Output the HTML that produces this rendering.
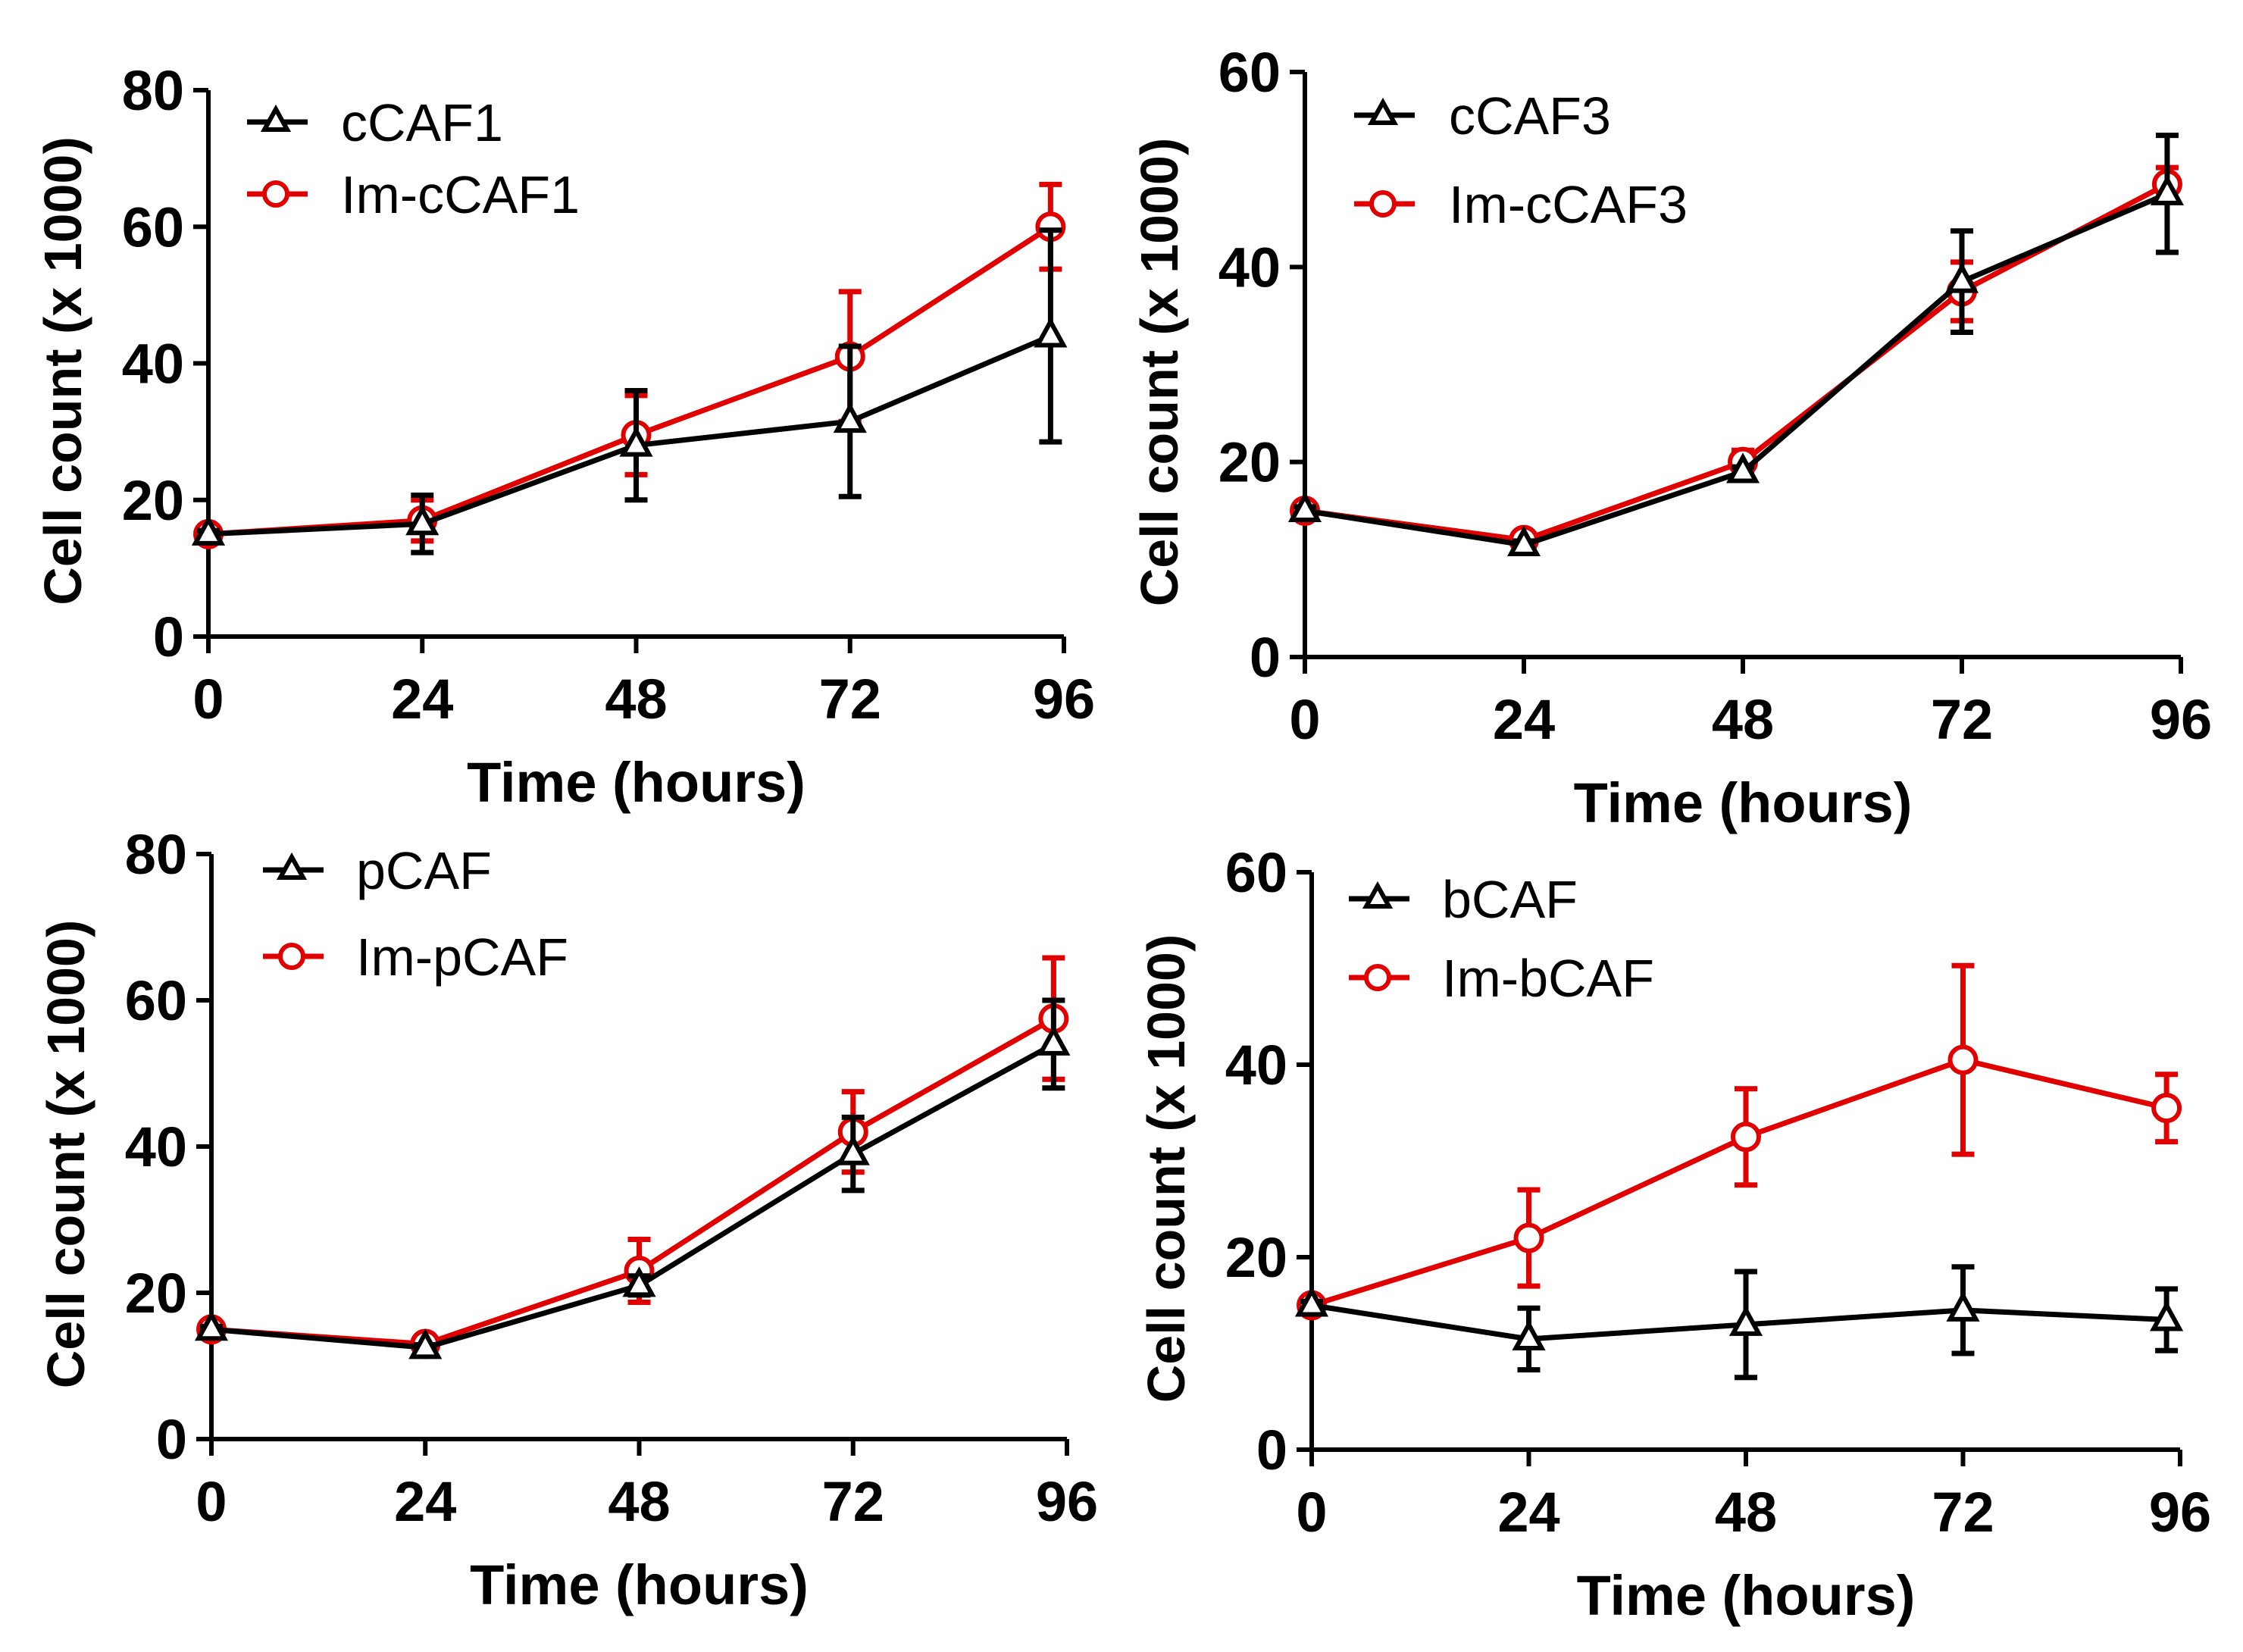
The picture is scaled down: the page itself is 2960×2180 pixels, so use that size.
<!DOCTYPE html>
<html><head><meta charset="utf-8"><style>
html,body{margin:0;padding:0;background:#fff;}
svg{display:block;}
.tick{font-family:"Liberation Sans Narrow","Liberation Sans",sans-serif;font-weight:bold;font-size:74px;fill:#000;}
.xt{font-family:"Liberation Sans Narrow","Liberation Sans",sans-serif;font-weight:bold;font-size:74px;fill:#000;}
.yt{font-family:"Liberation Sans",sans-serif;font-weight:bold;font-size:70px;fill:#000;}
.leg{font-family:"Liberation Sans",sans-serif;font-size:70px;fill:#000;}
</style></head><body>
<svg id="fig" width="2960" height="2180" viewBox="0 0 2960 2180" xmlns="http://www.w3.org/2000/svg"></svg>
<script>
// Shared x categories (hours)
const times = [0, 24, 48, 72, 94.5];
const xTickLabels = [0, 24, 48, 72, 96];
const yTicks80 = [0, 20, 40, 60, 80];
const yTicks60 = [0, 20, 40, 60];
// Panel A
const aNames = ["cCAF1", "Im-cCAF1"];
const aBlack = [15, 16.5, 28, 31.5, 44];
const aBlackErr = [0.5, 4.2, 8, 11, 15.5];
const aRed = [15, 17, 29.5, 41, 60];
const aRedErr = [0.5, 3, 5.8, 9.5, 6.2];
// Panel B
const bNames = ["cCAF3", "Im-cCAF3"];
const bBlack = [15, 11.5, 19, 38.5, 47.5];
const bBlackErr = [0.4, 0.4, 0.5, 5.2, 6];
const bRed = [15, 12, 20, 37.5, 48.5];
const bRedErr = [0.4, 0.5, 1.2, 3, 1.7];
// Panel C
const cNames = ["pCAF", "Im-pCAF"];
const cBlack = [15, 12.5, 21, 39, 54];
const cBlackErr = [0.4, 0.4, 1.3, 5, 6];
const cRed = [15, 13, 23, 42, 57.5];
const cRedErr = [0.4, 0.5, 4.3, 5.5, 8.3];
// Panel D
const dNames = ["bCAF", "Im-bCAF"];
const dBlack = [15, 11.5, 13, 14.5, 13.5];
const dBlackErr = [0.4, 3.2, 5.5, 4.5, 3.2];
const dRed = [15, 22, 32.5, 40.5, 35.5];
const dRedErr = [0.4, 5, 5, 9.8, 3.5];

const NS = "http://www.w3.org/2000/svg";
const fig = document.getElementById("fig");
function mk(tag, attrs, parent){
  const e = document.createElementNS(NS, tag);
  for (const k in attrs) e.setAttribute(k, attrs[k]);
  (parent || fig).appendChild(e);
  return e;
}

const panels = [
  {id:"a", x0:275, x1:1404, y0:840, y1:119, ymax:80, yt:yTicks80, names:aNames, k:aBlack, ke:aBlackErr, r:aRed, re:aRedErr, lx:326, ly:[161,256], tx:450},
  {id:"b", x0:1722, x1:2878, y0:867, y1:95, ymax:60, yt:yTicks60, names:bNames, k:bBlack, ke:bBlackErr, r:bRed, re:bRedErr, lx:1787, ly:[152,269], tx:1912},
  {id:"c", x0:279, x1:1408, y0:1899, y1:1127, ymax:80, yt:yTicks80, names:cNames, k:cBlack, ke:cBlackErr, r:cRed, re:cRedErr, lx:347, ly:[1148,1262], tx:470},
  {id:"d", x0:1731, x1:2877, y0:1913, y1:1151, ymax:60, yt:yTicks60, names:dNames, k:dBlack, ke:dBlackErr, r:dRed, re:dRedErr, lx:1780, ly:[1186,1290], tx:1903}
];

panels.forEach(p => {
  const g = mk("g", {});
  
  
  const X = t => p.x0 + (t / 96) * (p.x1 - p.x0);
  const Y = v => p.y0 - (v / p.ymax) * (p.y0 - p.y1);

  const ya = mk("line", {x1:p.x0, y1:p.y1, x2:p.x0, y2:p.y0, stroke:"#000", "stroke-width":6}, g);
  
  
  const xa = mk("line", {x1:p.x0-20, y1:p.y0, x2:p.x1, y2:p.y0, stroke:"#000", "stroke-width":6}, g);
  
  
  p.yt.forEach(v => {
    mk("line", {x1:p.x0-20, y1:Y(v), x2:p.x0, y2:Y(v), stroke:"#000", "stroke-width":6}, g);
    const t = mk("text", {x:p.x0-32, y:Y(v)+26, "text-anchor":"end", class:"tick"}, g);
    t.textContent = v;
    
    
  });
  xTickLabels.forEach(v => {
    mk("line", {x1:X(v), y1:p.y0, x2:X(v), y2:p.y0+22, stroke:"#000", "stroke-width":6}, g);
    const t = mk("text", {x:X(v), y:p.y0+108, "text-anchor":"middle", class:"xt"}, g);
    t.textContent = v;
    
    
  });
  const xt = mk("text", {x:(p.x0+p.x1)/2, y:p.y0+218, "text-anchor":"middle", class:"xt"}, g);
  xt.textContent = "Time (hours)";
  
  
  const cy = (p.y0+p.y1)/2 + 10;
  const yt = mk("text", {x:0, y:0, "text-anchor":"middle", class:"yt", transform:`translate(${p.x0-168},${cy}) rotate(-90)`}, g);
  yt.textContent = "Cell count (x 1000)";
  
  

  const series = [
    {vals:p.k, err:p.ke, col:"#000", mark:"tri", name:p.names[0]},
    {vals:p.r, err:p.re, col:"#e00000", mark:"circ", name:p.names[1]}
  ];
  [series[1], series[0]].forEach(s => {
    const sg = mk("g", {}, g);
    
    
    s.vals.forEach((v, i) => {
      const x = X(times[i]);
      const eb = mk("path", {d:`M${x},${Y(v+s.err[i])}V${Y(v-s.err[i])}M${x-15},${Y(v+s.err[i])}h30M${x-15},${Y(v-s.err[i])}h30`, stroke:s.col, "stroke-width":7, fill:"none"}, sg);
      
      
    });
    const pts = s.vals.map((v, i) => X(times[i]) + "," + Y(v)).join(" ");
    const pl = mk("polyline", {points:pts, stroke:s.col, "stroke-width":7, fill:"none"}, sg);
    
    
    s.vals.forEach((v, i) => {
      const x = X(times[i]), y = Y(v);
      let m;
      if (s.mark === "circ") m = mk("circle", {cx:x, cy:y, r:17, fill:"#fff", stroke:s.col, "stroke-width":6}, sg);
      else m = mk("polygon", {points:`${x},${y-19} ${x-17},${y+12} ${x+17},${y+12}`, fill:"#fff", stroke:s.col, "stroke-width":6}, sg);
      
      
    });
  });
  series.forEach((s, j) => {
    const lg = mk("g", {}, g);
    
    
    const y = p.ly[j], cx = p.lx + 38;
    mk("line", {x1:p.lx, y1:y, x2:p.lx+80, y2:y, stroke:s.col, "stroke-width":7}, lg);
    if (s.mark === "circ") mk("circle", {cx:cx, cy:y, r:15, fill:"#fff", stroke:s.col, "stroke-width":6}, lg);
    else mk("polygon", {points:`${cx},${y-17} ${cx-15},${y+10} ${cx+15},${y+10}`, fill:"#fff", stroke:s.col, "stroke-width":6}, lg);
    const t = mk("text", {x:p.tx, y:y+25, class:"leg"}, lg);
    t.textContent = s.name;
  });
});
</script>
</body></html>
